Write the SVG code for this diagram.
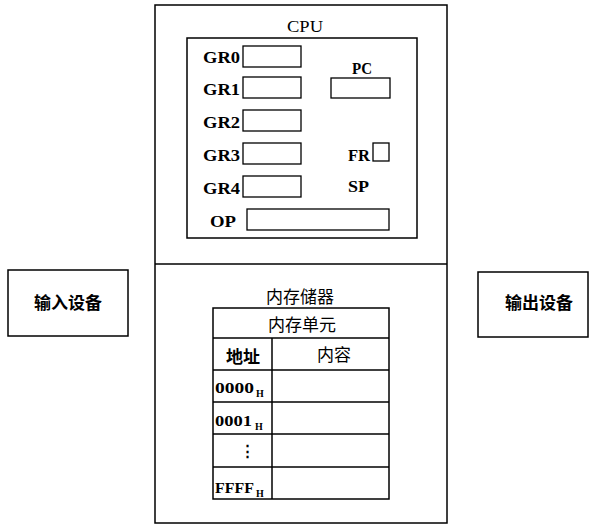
<svg xmlns="http://www.w3.org/2000/svg" width="590" height="525" viewBox="0 0 590 525">
<style>
.bx{fill:none;stroke:#000;stroke-width:1.5}
.rg{fill:none;stroke:#000;stroke-width:1.3}
.ln{stroke:#000;stroke-width:1.5}
.t{font-family:"Liberation Serif","DejaVu Serif",serif;font-size:17px;fill:#000}
.tb{font-family:"Liberation Serif","DejaVu Serif",serif;font-size:17px;font-weight:bold;fill:#000}
.d{font-family:"Liberation Serif","DejaVu Serif",serif;font-size:15px;font-weight:bold;fill:#000}
.sub{font-family:"Liberation Serif","DejaVu Serif",serif;font-size:10px;font-weight:bold;fill:#000}
.c{font-family:"Liberation Serif","Noto Sans CJK SC",sans-serif;font-size:17px;fill:#000;text-anchor:middle;dominant-baseline:central}
.cb{font-family:"Noto Sans CJK SC",sans-serif;font-size:17px;font-weight:bold;fill:#000;text-anchor:middle;dominant-baseline:central}
</style>
<rect width="590" height="525" fill="#fff"/>
<g id="computer">
<rect class="bx" x="155" y="5" width="292" height="518"/>
<line class="ln" x1="155" y1="264" x2="447" y2="264"/>
</g>
<g id="cpu">
<text class="t" x="305" y="32" text-anchor="middle" textLength="36" lengthAdjust="spacingAndGlyphs">CPU</text>
<rect class="bx" x="187" y="38" width="230" height="200"/>
<text class="tb" x="203" y="63" textLength="37" lengthAdjust="spacingAndGlyphs">GR0</text>
<rect class="rg" x="243" y="46" width="58" height="21"/>
<text class="tb" x="203" y="95" textLength="37" lengthAdjust="spacingAndGlyphs">GR1</text>
<rect class="rg" x="243" y="77" width="58" height="21"/>
<text class="tb" x="203" y="128" textLength="37" lengthAdjust="spacingAndGlyphs">GR2</text>
<rect class="rg" x="243" y="110" width="58" height="21"/>
<text class="tb" x="203" y="161" textLength="37" lengthAdjust="spacingAndGlyphs">GR3</text>
<rect class="rg" x="243" y="143" width="58" height="21"/>
<text class="tb" x="203" y="194" textLength="37" lengthAdjust="spacingAndGlyphs">GR4</text>
<rect class="rg" x="243" y="176" width="58" height="21"/>
<text class="tb" x="352" y="74" textLength="20" lengthAdjust="spacingAndGlyphs">PC</text>
<rect class="rg" x="331" y="78" width="59" height="20"/>
<text class="tb" x="348" y="161" textLength="22" lengthAdjust="spacingAndGlyphs">FR</text>
<rect class="rg" x="373" y="143" width="16" height="18"/>
<text class="tb" x="348" y="192" textLength="21" lengthAdjust="spacingAndGlyphs">SP</text>
<text class="tb" x="210" y="227" textLength="26" lengthAdjust="spacingAndGlyphs">OP</text>
<rect class="rg" x="247" y="209" width="142" height="21"/>
</g>
<g id="memory">
<text class="c" x="300" y="297" font-size="18">内存储器</text>
<rect class="bx" x="213" y="308" width="176" height="191"/>
<line class="ln" x1="213" y1="338" x2="389" y2="338"/>
<line class="ln" x1="213" y1="370" x2="389" y2="370"/>
<line class="ln" x1="213" y1="402" x2="389" y2="402"/>
<line class="ln" x1="213" y1="434" x2="389" y2="434"/>
<line class="ln" x1="213" y1="467" x2="389" y2="467"/>
<line class="ln" x1="272" y1="338" x2="272" y2="499"/>
<text class="c" x="302" y="325">内存单元</text>
<text class="cb" x="243" y="355">地址</text>
<text class="c" x="334" y="355">内容</text>
<text class="d" x="215" y="393" textLength="39" lengthAdjust="spacingAndGlyphs">0000</text>
<text class="sub" x="256" y="397">H</text>
<text class="d" x="215" y="426" textLength="37" lengthAdjust="spacingAndGlyphs">0001</text>
<text class="sub" x="255" y="430">H</text>
<text class="d" x="240" y="456">⋮</text>
<text class="d" x="215" y="493" textLength="39" lengthAdjust="spacingAndGlyphs">FFFF</text>
<text class="sub" x="256" y="497">H</text>
</g>
<g id="input">
<rect class="bx" x="8" y="270" width="120" height="66"/>
<text class="cb" x="68" y="301">输入设备</text>
</g>
<g id="output">
<rect class="bx" x="478" y="272" width="110" height="65"/>
<text class="cb" x="539" y="301">输出设备</text>
</g>
<g id="connectors"></g>
</svg>
